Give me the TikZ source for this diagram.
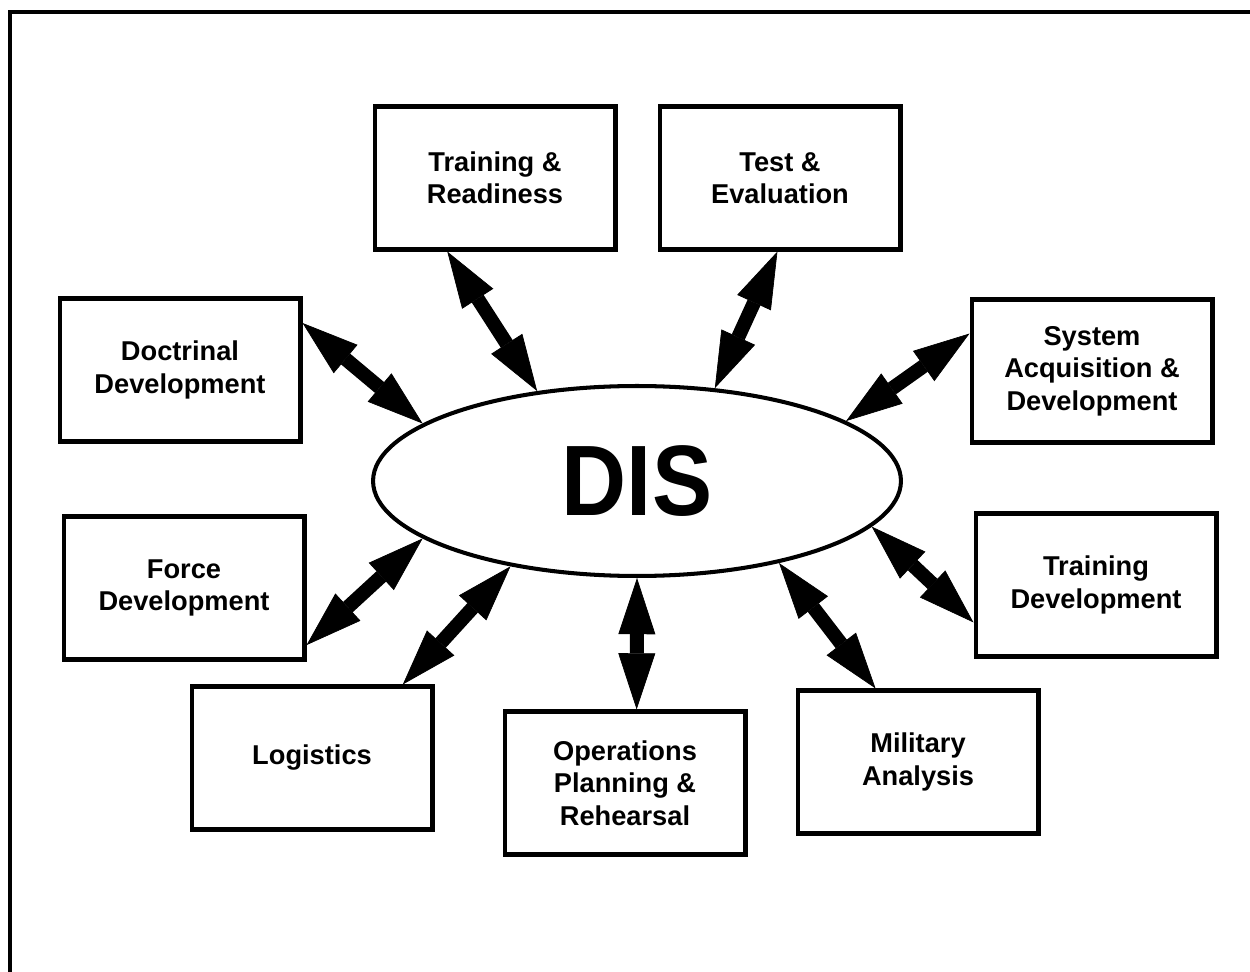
\documentclass[tikz,border=0pt]{standalone}
\usepackage{fontspec}
\setmainfont{Liberation Sans}
\newfontfamily\disfont{Liberation Sans}[FakeStretch=0.9]
\usetikzlibrary{arrows.meta,shapes.geometric}

\begin{document}
\begin{tikzpicture}[x=0.02cm,y=-0.02cm,
  box/.style={draw,line width=2.3pt,minimum width=4.82cm,minimum height=2.86cm,
    align=center,font=\fontsize{15.5}{18.5}\selectfont\bfseries},
  link/.style={line width=8pt,
    {Triangle[length=32pt,width=21pt,line width=0.4pt]}-{Triangle[length=32pt,width=21pt,line width=0.4pt]}}]
\useasboundingbox (0,0) rectangle (1250,972);

% frame, only top and left side
\draw[line width=2.8pt] (1250,12) -- (10,12) -- (10,972);

\draw (637,481) node[ellipse,draw,line width=2.3pt,minimum width=10.56cm,
  minimum height=3.8cm,inner sep=0pt] (dis) {\disfont\bfseries\fontsize{57}{60}\selectfont DIS};

\draw (495,178) node[box] (tr) {Training \&\\Readiness};
\draw (780,178) node[box] (te) {Test \&\\Evaluation};
\draw (180,370) node[box] (doc) {Doctrinal\\Development};
\draw (1092,371) node[box] (sys) {System\\Acquisition \&\\Development};
\draw (184,588) node[box] (frc) {Force\\Development};
\draw (1096,585) node[box] (tdev) {Training\\Development};
\draw (312,758) node[box] (log) {Logistics};
\draw (625,783) node[box] (ops) {Operations\\Planning \&\\Rehearsal};
\draw (918,762) node[box] (mil) {Military\\Analysis};

\foreach \a/\b in {tr.-123/dis.138, te.-92/dis.50, doc.21/dis.165, sys.163/dis.16,
    frc.-25/dis.195, tdev.197/dis.-11, log.39/dis.-146, ops.81/dis.-90, mil.120/dis.-30}
  \draw[link] (\a) -- (\b);

\end{tikzpicture}
\end{document}
